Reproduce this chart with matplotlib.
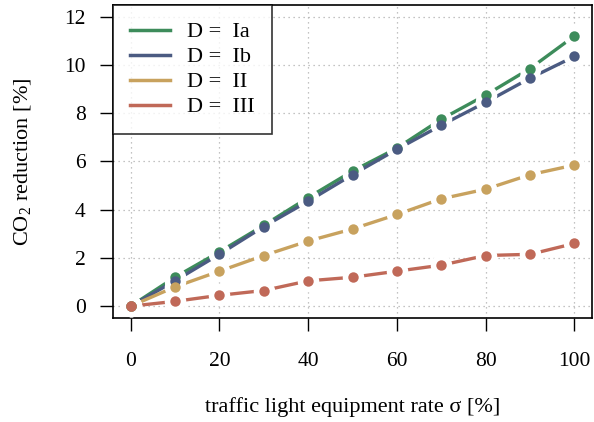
import matplotlib
matplotlib.use("Agg")
import matplotlib.pyplot as plt

plt.rcParams['font.family'] = ['Liberation Serif', 'DejaVu Serif']
plt.rcParams['mathtext.fontset'] = 'custom'
plt.rcParams['mathtext.rm'] = 'Liberation Serif'

# equipment rate sigma [%]
sigma = [0, 10, 20, 30, 40, 50, 60, 70, 80, 90, 100]

# CO2 reduction [%] per scenario
red_Ia = [0.0, 1.2, 2.25, 3.35, 4.5, 5.6, 6.55, 7.75, 8.75, 9.85, 11.2]
red_Ib = [0.0, 1.05, 2.15, 3.3, 4.35, 5.45, 6.5, 7.5, 8.45, 9.45, 10.35]
red_II = [0.0, 0.8, 1.45, 2.1, 2.7, 3.2, 3.8, 4.45, 4.85, 5.45, 5.85]
red_III = [0.0, 0.2, 0.45, 0.65, 1.05, 1.2, 1.45, 1.7, 2.1, 2.15, 2.6]

labels = ['D =  Ia', 'D =  Ib', 'D =  II', 'D =  III']
series = [red_Ia, red_Ib, red_II, red_III]
colors = ['#3d8c5b', '#4b5b82', '#c8a25e', '#c06958']

fig = plt.figure(figsize=(5.94, 4.22), dpi=100)
ax = fig.add_axes([0.190, 0.247, 0.807, 0.741])

for y, c in zip(series, colors):
    ax.plot(sigma, y, color=c, lw=2.4, solid_capstyle='butt', zorder=3)
# white halo so the lines stop short of the points (like R type="b")
for y in series:
    ax.plot(sigma, y, 'o', color='white', ms=15.5, mew=0, zorder=4)
for y, c in zip(series, colors):
    ax.plot(sigma, y, 'o', color=c, ms=7.5, mew=0, zorder=5)

ax.set_xlim(-4, 104)
ax.set_ylim(-0.48, 12.48)
ax.set_xticks(range(0, 101, 20))
ax.set_yticks(range(0, 13, 2))
ax.grid(True, color='#b0b0b0', linestyle=(0, (1, 3)), lw=0.9)
ax.set_axisbelow(True)
ax.tick_params(direction='out', length=9.5, width=1, labelsize=15.5)
ax.tick_params(axis='x', pad=15)
ax.tick_params(axis='y', pad=10)
for s in ax.spines.values():
    s.set_linewidth(1.2)

ax.set_xlabel('traffic light equipment rate σ [%]', fontsize=16, labelpad=19)
ax.set_ylabel('CO$_2$ reduction [%]', fontsize=16, labelpad=22)

leg = ax.legend(handles=[plt.Line2D([], [], color=c, lw=2.5) for c in colors],
                labels=labels, loc='upper left', fontsize=16, frameon=True,
                fancybox=False, edgecolor='black', borderaxespad=0,
                handlelength=1.8, handletextpad=0.8, labelspacing=0.2,
                borderpad=0.75)
leg.get_frame().set_linewidth(1.2)
leg.set_zorder(10)

fig.savefig('out.png', dpi=100)
